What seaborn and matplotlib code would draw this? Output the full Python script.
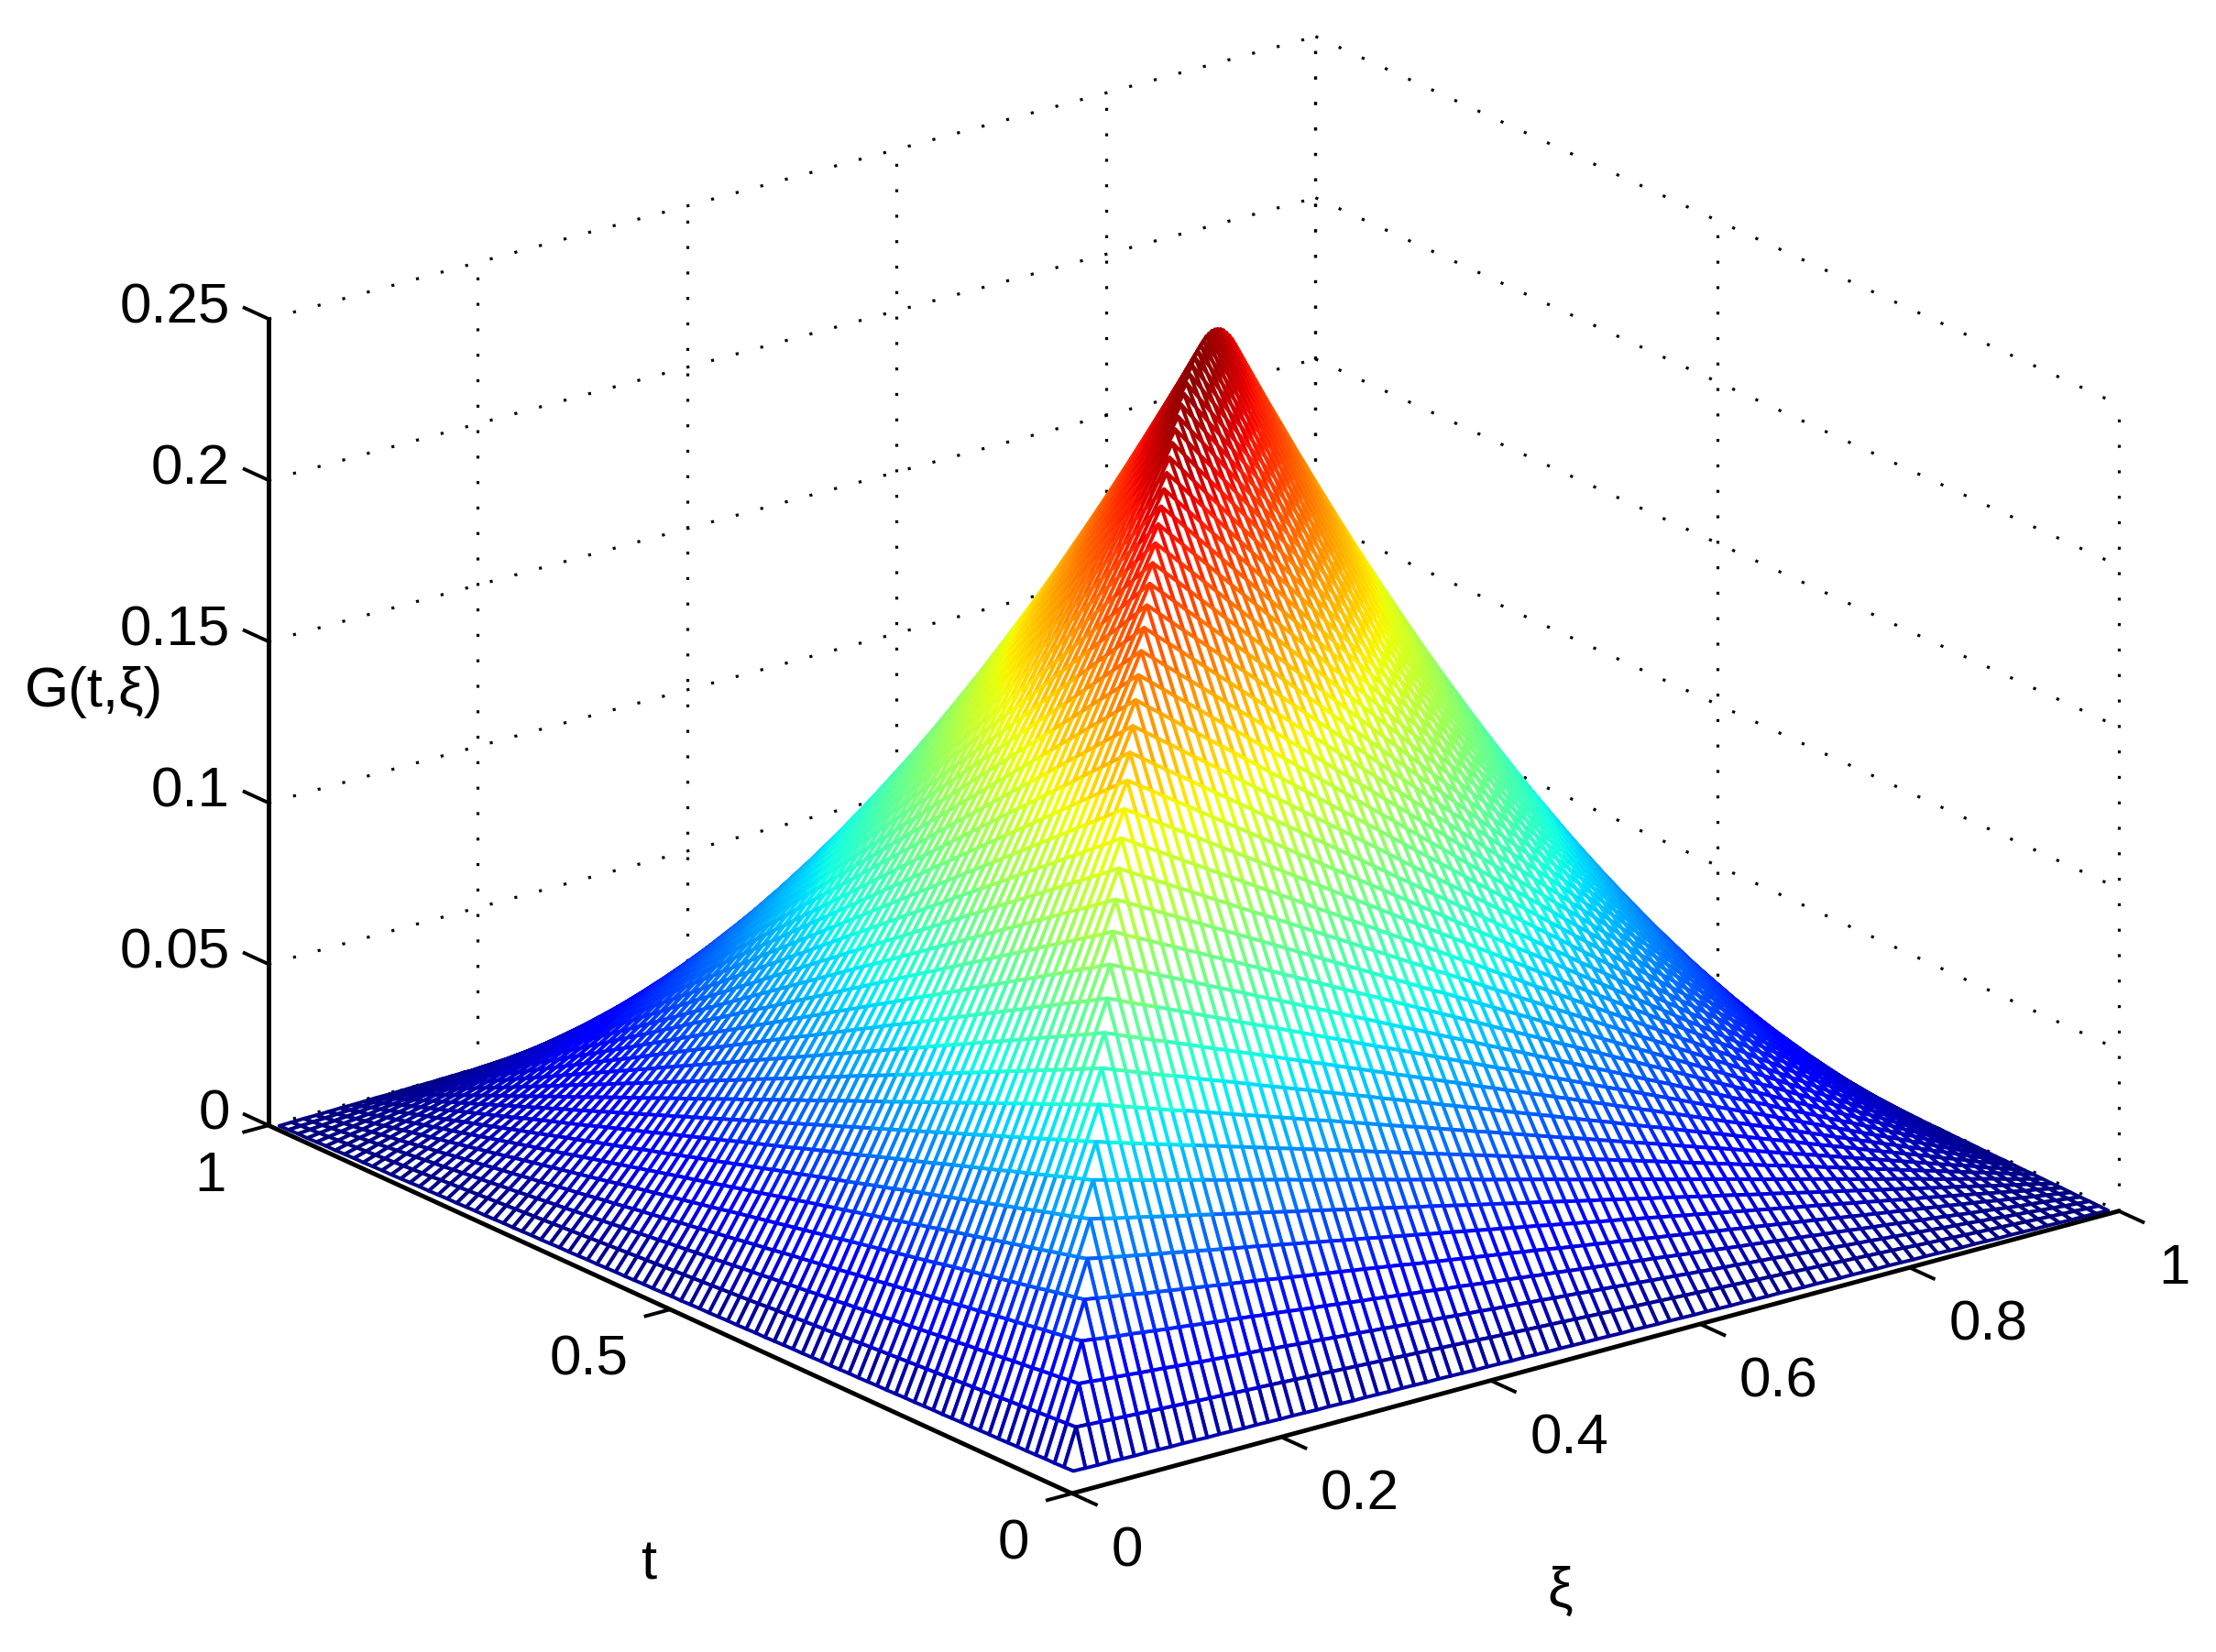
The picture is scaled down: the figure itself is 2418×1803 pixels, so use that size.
import matplotlib
matplotlib.use("Agg")
import matplotlib.pyplot as plt
import numpy as np
import seaborn as sns
from mpl_toolkits.mplot3d import proj3d

# Axis content
xi_ticks = [0, 0.2, 0.4, 0.6, 0.8, 1]
xi_labels = ["0", "0.2", "0.4", "0.6", "0.8", "1"]
t_ticks = [0, 0.5, 1]
t_labels = ["0", "0.5", "1"]
z_ticks = [0, 0.05, 0.1, 0.15, 0.2, 0.25]
z_labels = ["0", "0.05", "0.1", "0.15", "0.2", "0.25"]

# Mesh node positions, the same along t and along xi
grid = [
    .0058, .0174, .0291, .0407, .0523, .0640, .0756, .0872, .0988, .1105,
    .1221, .1337, .1453, .1570, .1686, .1802, .1919, .2035, .2151, .2267,
    .2384, .2500, .2616, .2733, .2849, .2965, .3081, .3198, .3314, .3430,
    .3547, .3663, .3779, .3895, .4012, .4128, .4244, .4360, .4477, .4593,
    .4709, .4826, .4942, .5058, .5174, .5291, .5407, .5523, .5640, .5756,
    .5872, .5988, .6105, .6221, .6337, .6453, .6570, .6686, .6802, .6919,
    .7035, .7151, .7267, .7384, .7500, .7616, .7733, .7849, .7965, .8081,
    .8198, .8314, .8430, .8547, .8663, .8779, .8895, .9012, .9128, .9244,
    .9360, .9477, .9593, .9709, .9826, .9942,
]

# Heights of the mesh in units of 0.0001: one quarter of the surface, the part
# in front of both diagonals; row i holds columns i .. 85-i.
G_quarter = [
    [58,57,56,56,55,54,54,53,52,52,
     51,50,50,49,48,48,47,46,46,45,
     44,44,43,42,42,41,40,40,39,38,
     38,37,36,35,35,34,33,33,32,31,
     31,30,29,29,28,27,27,26,25,25,
     24,23,23,22,21,21,20,19,19,18,
     17,17,16,15,15,14,13,13,12,11,
     11,10,9,8,8,7,6,6,5,4,
     4,3,2,2,1,0],
    [171,169,167,165,163,161,159,157,155,153,
     151,149,147,145,143,141,139,137,135,133,
     131,129,127,125,123,121,119,117,115,113,
     111,109,107,105,102,100,98,96,94,92,
     90,88,86,84,82,80,78,76,74,72,
     70,68,66,64,62,60,58,56,54,52,
     50,48,46,44,42,40,38,36,34,31,
     29,27,25,23,21,19,17,15,13,11,
     9,7,5,3],
    [282,279,275,272,269,265,262,259,255,252,
     248,245,242,238,235,232,228,225,221,218,
     215,211,208,205,201,198,194,191,188,184,
     181,177,174,171,167,164,161,157,154,150,
     147,144,140,137,134,130,127,123,120,117,
     113,110,106,103,100,96,93,90,86,83,
     79,76,73,69,66,63,59,56,52,49,
     46,42,39,36,32,29,25,22,19,15,
     12,8],
    [391,386,381,376,372,367,362,357,353,348,
     343,338,334,329,324,319,315,310,305,300,
     296,291,286,281,277,272,267,262,258,253,
     248,244,239,234,229,225,220,215,210,206,
     201,196,191,187,182,177,172,168,163,158,
     153,149,144,139,134,130,125,120,115,111,
     106,101,97,92,87,82,78,73,68,63,
     59,54,49,44,40,35,30,25,21,17],
    [496,490,484,478,472,465,459,453,447,441,
     435,429,423,417,411,405,398,392,386,380,
     374,368,362,356,350,344,338,331,325,319,
     313,307,301,295,289,283,277,271,265,258,
     252,246,240,234,228,222,216,210,204,198,
     192,185,179,173,167,161,155,149,143,137,
     131,125,118,112,106,100,94,88,82,76,
     70,64,58,52,46,39,33,27],
    [599,591,584,576,569,561,554,547,539,532,
     524,517,509,502,495,487,480,472,465,457,
     450,442,435,428,420,413,405,398,390,383,
     376,368,361,353,346,338,331,324,316,309,
     301,294,286,279,272,264,257,249,242,234,
     227,219,212,205,197,190,182,175,167,160,
     153,145,138,130,123,115,108,100,93,86,
     78,71,63,56,48,41],
    [699,690,681,672,664,655,646,637,628,620,
     611,602,593,584,576,567,558,549,541,532,
     523,514,505,497,488,479,470,461,453,444,
     435,426,417,409,400,391,382,374,365,356,
     347,338,330,321,312,303,294,286,277,268,
     259,250,242,233,224,215,207,198,189,180,
     171,163,154,145,136,127,119,110,101,92,
     83,75,66,57],
    [796,786,776,766,755,745,735,725,715,705,
     694,684,674,664,654,644,634,623,613,603,
     593,583,573,563,553,542,532,522,512,502,
     492,482,471,461,451,441,431,421,411,400,
     390,380,370,360,350,340,330,319,309,299,
     289,279,269,259,248,238,228,218,208,198,
     188,178,167,157,147,137,127,117,107,96,
     86,76],
    [891,879,868,856,845,833,822,810,799,787,
     776,764,753,741,730,718,707,695,684,672,
     661,649,638,626,615,603,592,580,569,557,
     546,534,523,511,500,488,477,465,454,442,
     431,419,408,396,385,373,362,350,339,327,
     316,304,293,281,270,258,247,236,224,213,
     201,190,178,167,155,144,132,121,109,98],
    [983,970,957,944,931,918,905,893,880,867,
     854,841,828,816,803,790,777,764,751,739,
     726,713,700,687,674,661,649,636,623,610,
     597,584,572,559,546,533,520,507,494,482,
     469,456,443,430,417,405,392,379,366,353,
     340,328,315,302,289,276,263,250,238,225,
     212,199,186,173,161,148,135,122],
    [1072,1058,1044,1029,1015,1001,987,973,958,944,
     930,916,902,887,873,859,845,831,816,802,
     788,774,760,745,731,717,703,689,674,660,
     646,632,618,603,589,575,561,547,532,518,
     504,490,476,461,447,433,419,405,390,376,
     362,348,334,319,305,291,277,263,248,234,
     220,206,192,177,163,149],
    [1158,1143,1127,1112,1096,1081,1065,1050,1034,1018,
     1003,987,972,956,941,925,910,894,879,863,
     847,832,816,801,785,770,754,739,723,708,
     692,676,661,645,630,614,599,583,568,552,
     536,521,505,490,474,459,443,428,412,396,
     381,365,350,334,319,303,288,272,257,241,
     225,210,194,179],
    [1242,1225,1208,1191,1175,1158,1141,1124,1107,1090,
     1073,1056,1039,1023,1006,989,972,955,938,921,
     904,887,870,854,837,820,803,786,769,752,
     735,718,701,685,668,651,634,617,600,583,
     566,549,532,516,499,482,465,448,431,414,
     397,380,363,347,330,313,296,279,262,245,
     228,211],
    [1323,1305,1287,1269,1250,1232,1214,1196,1177,1159,
     1141,1123,1104,1086,1068,1050,1031,1013,995,976,
     958,940,922,903,885,867,849,830,812,794,
     776,757,739,721,703,684,666,648,630,611,
     593,575,557,538,520,502,484,465,447,429,
     411,392,374,356,338,319,301,283,265,246],
    [1402,1382,1362,1343,1323,1304,1284,1265,1245,1225,
     1206,1186,1167,1147,1127,1108,1088,1069,1049,1029,
     1010,990,971,951,931,912,892,872,853,833,
     814,794,774,755,735,716,696,676,657,637,
     618,598,578,559,539,520,500,480,461,441,
     421,402,382,363,343,323,304,284],
    [1478,1457,1436,1415,1394,1373,1352,1331,1310,1289,
     1268,1247,1226,1205,1184,1163,1142,1121,1100,1079,
     1058,1037,1016,995,974,953,932,912,891,870,
     849,828,807,786,765,744,723,702,681,660,
     639,618,597,576,555,534,513,492,471,450,
     429,408,387,366,346,325],
    [1551,1528,1506,1484,1461,1439,1417,1394,1372,1350,
     1327,1305,1283,1261,1238,1216,1194,1171,1149,1127,
     1104,1082,1060,1037,1015,993,970,948,926,904,
     881,859,837,814,792,770,747,725,703,680,
     658,636,613,591,569,547,524,502,480,457,
     435,413,390,368],
    [1621,1597,1573,1550,1526,1502,1479,1455,1431,1408,
     1384,1361,1337,1313,1290,1266,1242,1219,1195,1171,
     1148,1124,1100,1077,1053,1029,1006,982,958,935,
     911,887,864,840,816,793,769,745,722,698,
     674,651,627,603,580,556,532,509,485,461,
     438,414],
    [1688,1663,1638,1613,1588,1563,1538,1513,1488,1463,
     1438,1413,1388,1363,1338,1313,1288,1263,1238,1213,
     1188,1163,1138,1113,1088,1063,1038,1013,988,963,
     938,913,888,863,838,813,788,763,738,713,
     688,663,638,613,588,563,538,513,488,463],
    [1753,1727,1701,1674,1648,1622,1595,1569,1542,1516,
     1490,1463,1437,1411,1384,1358,1331,1305,1279,1252,
     1226,1200,1173,1147,1120,1094,1068,1041,1015,988,
     962,936,909,883,857,830,804,777,751,725,
     698,672,646,619,593,566,540,514],
    [1816,1788,1760,1732,1705,1677,1649,1621,1594,1566,
     1538,1510,1483,1455,1427,1399,1372,1344,1316,1289,
     1261,1233,1205,1178,1150,1122,1094,1067,1039,1011,
     983,956,928,900,872,845,817,789,762,734,
     706,678,651,623,595,568],
    [1875,1846,1817,1788,1759,1730,1701,1672,1643,1613,
     1584,1555,1526,1497,1468,1439,1410,1381,1352,1323,
     1294,1265,1235,1206,1177,1148,1119,1090,1061,1032,
     1003,974,945,916,887,858,828,799,770,741,
     712,683,654,625],
    [1932,1901,1871,1840,1810,1780,1749,1719,1689,1658,
     1628,1597,1567,1537,1506,1476,1445,1415,1385,1354,
     1324,1293,1263,1232,1202,1172,1141,1111,1080,1050,
     1020,989,959,928,898,867,837,806,776,746,
     715,685],
    [1986,1954,1922,1890,1859,1827,1795,1763,1732,1700,
     1668,1636,1605,1573,1541,1509,1478,1446,1414,1382,
     1350,1319,1287,1255,1223,1192,1160,1128,1096,1065,
     1033,1001,969,938,906,874,842,811,779,747],
    [2037,2004,1971,1938,1905,1872,1839,1805,1772,1739,
     1706,1673,1640,1607,1574,1540,1507,1474,1441,1408,
     1375,1342,1309,1275,1242,1209,1176,1143,1110,1077,
     1044,1010,977,944,911,878,845,812],
    [2086,2051,2017,1983,1948,1914,1879,1845,1810,1776,
     1741,1707,1672,1638,1603,1569,1534,1500,1465,1431,
     1396,1362,1327,1293,1258,1224,1189,1155,1120,1086,
     1051,1017,983,948,914,879],
    [2132,2096,2060,2024,1989,1953,1917,1881,1845,1810,
     1774,1738,1702,1666,1630,1595,1559,1523,1487,1451,
     1415,1380,1344,1308,1272,1236,1201,1165,1129,1093,
     1057,1021,986,950],
    [2175,2138,2101,2063,2026,1989,1952,1915,1878,1840,
     1803,1766,1729,1692,1655,1617,1580,1543,1506,1469,
     1431,1394,1357,1320,1283,1246,1208,1171,1134,1097,
     1060,1023],
    [2216,2177,2139,2100,2061,2023,1984,1946,1907,1869,
     1830,1792,1753,1714,1676,1637,1599,1560,1522,1483,
     1445,1406,1368,1329,1290,1252,1213,1175,1136,1098],
    [2254,2214,2174,2134,2094,2054,2014,1974,1935,1895,
     1855,1815,1775,1735,1695,1655,1615,1575,1536,1496,
     1456,1416,1376,1336,1296,1256,1216,1177],
    [2289,2247,2206,2165,2124,2082,2041,2000,1959,1918,
     1876,1835,1794,1753,1711,1670,1629,1588,1546,1505,
     1464,1423,1382,1340,1299,1258],
    [2321,2279,2236,2193,2151,2108,2066,2023,1980,1938,
     1895,1853,1810,1767,1725,1682,1640,1597,1555,1512,
     1469,1427,1384,1342],
    [2351,2307,2263,2219,2175,2131,2087,2043,1999,1955,
     1911,1867,1823,1779,1735,1692,1648,1604,1560,1516,
     1472,1428],
    [2378,2333,2287,2242,2197,2151,2106,2061,2016,1970,
     1925,1880,1835,1789,1744,1699,1653,1608,1563,1518],
    [2402,2356,2309,2262,2216,2169,2122,2076,2029,1982,
     1936,1889,1842,1796,1749,1703,1656,1609],
    [2424,2376,2328,2280,2232,2184,2136,2088,2040,1992,
     1944,1896,1848,1800,1752,1704],
    [2443,2394,2344,2295,2245,2196,2147,2097,2048,1999,
     1949,1900,1851,1801],
    [2459,2408,2358,2307,2256,2205,2155,2104,2053,2003,
     1952,1901],
    [2473,2421,2368,2316,2264,2212,2160,2108,2056,2004],
    [2483,2430,2376,2323,2270,2216,2163,2110],
    [2492,2437,2382,2327,2272,2218],
    [2497,2441,2385,2329],
    [2500,2442],
]

sns.set_theme(style="white")
plt.rcParams["font.family"] = ["Liberation Sans", "DejaVu Sans"]

# Rebuild the full mesh from the quarter by its two mirror diagonals
n = len(grid)
G = np.zeros((n, n))
for i, row in enumerate(G_quarter):
    for k, v in enumerate(row):
        j = i + k
        for a, b in ((i, j), (j, i), (n - 1 - j, n - 1 - i), (n - 1 - i, n - 1 - j)):
            G[a, b] = v * 1e-4
X, Y = np.meshgrid(grid, grid)

W, H = 2418, 1803
fig = plt.figure(figsize=(W / 200, H / 200), dpi=200, facecolor="white")
ax = fig.add_axes([-1, -1, 3, 3], projection="3d")
ax.set_proj_type("ortho")
ax.view_init(elev=20.59, azim=-127.5)
ax.set_xlim(0, 1, view_margin=0)
ax.set_ylim(0, 1, view_margin=0)
ax.set_zlim(0, 0.25, view_margin=0)
ax.set_xticks([])
ax.set_yticks([])
ax.set_zticks([])
ax.set_box_aspect((1, 1, 0.653), zoom=0.33)
ax.set_axis_off()
ax.computed_zorder = False


def pix(x, y, z):
    px, py, _ = proj3d.proj_transform(x, y, z, ax.get_proj())
    return ax.transData.transform((px, py))


# fit the projected box onto the reference's corners (pixels from the top left)
fig.canvas.draw()
a, b = pix(0, 1, 0), pix(1, 0, 0)
ax.set_box_aspect((1, 1, 0.653), zoom=0.33 * (2312 - 293) / (b[0] - a[0]))
fig.canvas.draw()
a, b = pix(0, 1, 0), pix(1, 0, 0)
dx = (293 + 2312) / 2 - (a[0] + b[0]) / 2
dy = (H - (1228 + 1322) / 2) - (a[1] + b[1]) / 2
ax.set_position([-1 + dx / W, -1 + dy / H, 3, 3])
fig.canvas.draw()

dot = dict(color="black", lw=1.15, ls=(0, (1, 7.7)), zorder=1, dash_capstyle="butt")
for z in z_ticks:
    ax.plot([0, 1], [1, 1], [z, z], **dot)
    ax.plot([1, 1], [1, 0], [z, z], **dot)
for x in xi_ticks[1:]:
    ax.plot([x, x], [1, 1], [0, 0.25], **dot)
for t in t_ticks:
    ax.plot([1, 1], [t, t], [0, 0.25], **dot)

# White faces hide what lies behind; each edge takes its colour from the height
cmap = matplotlib.colormaps["jet"]
cell = (G[:-1, :-1] + G[1:, :-1] + G[:-1, 1:] + G[1:, 1:]) / 4
surf = ax.plot_surface(X, Y, G, rstride=1, cstride=1, color="white", shade=False,
                       linewidth=1.4, antialiased=True, zorder=2)
surf.set_facecolor("white")
surf.set_edgecolor(cmap(cell.ravel() / 0.25))
surf.set_linewidth(1.4)

solid = dict(color="black", lw=1.75, zorder=3, solid_capstyle="butt")
tick = dict(color="black", lw=1.4, zorder=3, solid_capstyle="butt")
ax.plot([0, 1], [0, 0], [0, 0], **solid)
ax.plot([0, 0], [0, 1], [0, 0], **solid)
ax.plot([0, 0], [1, 1], [0, 0.25], **solid)
FS = 22.3
drop = -8 / 3520
for x, s in zip(xi_ticks, xi_labels):
    ax.plot([x, x], [0, -0.032], [0, 0], **tick)
    ax.text(x - 0.0437, -0.1059, drop, s, fontsize=FS, ha="left", va="center", color="black")
for t, s in zip(t_ticks, t_labels):
    ax.plot([0, -0.025], [t, t], [0, 0], **tick)
    ax.text(-0.0831, t - 0.0557, drop, s, fontsize=FS, ha="right", va="center", color="black")
for z, s in zip(z_ticks, z_labels):
    ax.plot([0, 0], [1, 1.032], [z, z], **tick)
    ax.text(0, 1.048, z + drop, s, fontsize=FS, ha="right", va="center", color="black")

fig.text(102 / W, 1 - 755 / H, "G(t,ξ)", fontsize=FS, ha="center", va="center", color="black")
fig.text(708 / W, 1 - 1708 / H, "t", fontsize=FS, ha="center", va="center", color="black")
fig.text(1702 / W, 1 - 1737 / H, "ξ", fontsize=FS, ha="center", va="center", color="black")

fig.savefig("out.png", dpi=200, facecolor="white")
